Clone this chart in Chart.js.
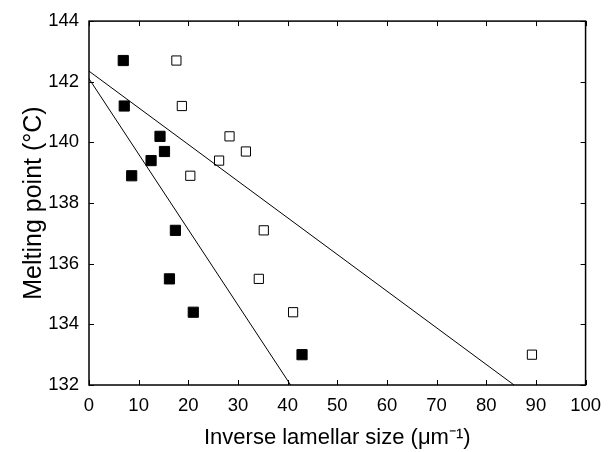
<!DOCTYPE html>
<html>
<head>
<meta charset="utf-8">
<script src="https://cdn.jsdelivr.net/npm/chart.js@4/dist/chart.umd.min.js"></script>
<style>
  html, body { margin: 0; padding: 0; background: #fff; }
  #wrap { width: 611px; height: 452px; position: relative; }
</style>
</head>
<body>
<div id="wrap"><canvas id="c" width="611" height="452"></canvas></div>
<script>
// Data
const filledX = [6.9, 7.1, 14.3, 15.2, 12.5, 8.6, 17.4, 16.2, 21.0, 42.9];
const filledY = [142.7, 141.2, 140.2, 139.7, 139.4, 138.9, 137.1, 135.5, 134.4, 133.0];
const openX   = [17.6, 18.7, 28.3, 31.6, 26.2, 20.4, 35.2, 34.2, 41.1, 89.2];
const openY   = [142.7, 141.2, 140.2, 139.7, 139.4, 138.9, 137.1, 135.5, 134.4, 133.0];
const line1X = [0, 85.6];
const line1Y = [142.35, 132];
const line2X = [0, 40.6];
const line2Y = [142.1, 132];
const xTicks = [0, 10, 20, 30, 40, 50, 60, 70, 80, 90, 100];
const yTicks = [132, 134, 136, 138, 140, 142, 144];
const xTitle = 'Inverse lamellar size (\u03BCm\u207B\u00B9)';
const yTitle = 'Melting point (\u00B0C)';

const pts = (xs, ys) => xs.map((x, i) => ({x: x, y: ys[i]}));
const FONT = "'Liberation Sans', Arial, sans-serif";

const frame = {
  id: 'frame',
  afterDatasetsDraw(chart) {
    const {ctx, chartArea: a, scales: {x, y}} = chart;
    ctx.save();
    ctx.strokeStyle = '#000';
    ctx.lineWidth = 1;
    ctx.beginPath();
    const tl = 5;
    xTicks.forEach(v => {
      const px = Math.round(x.getPixelForValue(v)) + 0.5;
      ctx.moveTo(px, a.bottom); ctx.lineTo(px, a.bottom - tl);
      ctx.moveTo(px, a.top); ctx.lineTo(px, a.top + tl);
    });
    yTicks.forEach(v => {
      const py = Math.round(y.getPixelForValue(v)) + 0.5;
      ctx.moveTo(a.left, py); ctx.lineTo(a.left + tl, py);
      ctx.moveTo(a.right, py); ctx.lineTo(a.right - tl, py);
    });
    ctx.stroke();
    ctx.lineWidth = 1.5;
    ctx.strokeRect(a.left, a.top, a.right - a.left, a.bottom - a.top);
    ctx.restore();
  }
};

new Chart(document.getElementById('c'), {
  type: 'scatter',
  data: {
    datasets: [
      { data: pts(line1X, line1Y), showLine: true, pointRadius: 0, borderColor: '#000', borderWidth: 1, fill: false, clip: false },
      { data: pts(line2X, line2Y), showLine: true, pointRadius: 0, borderColor: '#000', borderWidth: 1, fill: false, clip: false },
      { data: pts(openX, openY), pointStyle: 'rect', pointRadius: 6.5, pointRotation: 0,
        backgroundColor: '#fff', borderColor: '#000', borderWidth: 1 },
      { data: pts(filledX, filledY), pointStyle: 'rect', pointRadius: 7.2, pointRotation: 0,
        backgroundColor: '#000', borderColor: '#000', borderWidth: 1 }
    ]
  },
  options: {
    responsive: false,
    animation: false,
    events: [],
    layout: { padding: { left: 0, right: 19, top: 17, bottom: 0 } },
    plugins: { legend: { display: false }, tooltip: { enabled: false } },
    scales: {
      x: {
        type: 'linear', min: 0, max: 100,
        afterFit(s) { s.height = 67; },
        afterBuildTicks(s) { s.ticks = xTicks.map(v => ({value: v})); },
        grid: { display: false, drawTicks: false },
        border: { display: false },
        ticks: { color: '#000', font: { family: FONT, size: 18.5 }, padding: 10, maxRotation: 0, autoSkip: false },
        title: { display: true, text: xTitle, color: '#000', font: { family: FONT, size: 22 }, padding: { top: 0, bottom: 1 } }
      },
      y: {
        type: 'linear', min: 132, max: 144,
        afterFit(s) { s.width = 89; },
        afterBuildTicks(s) { s.ticks = yTicks.map(v => ({value: v})); },
        grid: { display: false, drawTicks: false },
        border: { display: false },
        ticks: { color: '#000', font: { family: FONT, size: 18.5 }, padding: 10, autoSkip: false },
        title: { display: true, text: yTitle, color: '#000', font: { family: FONT, size: 25 }, padding: { top: 19, bottom: 0 } }
      }
    }
  },
  plugins: [frame]
});
</script>
</body>
</html>
